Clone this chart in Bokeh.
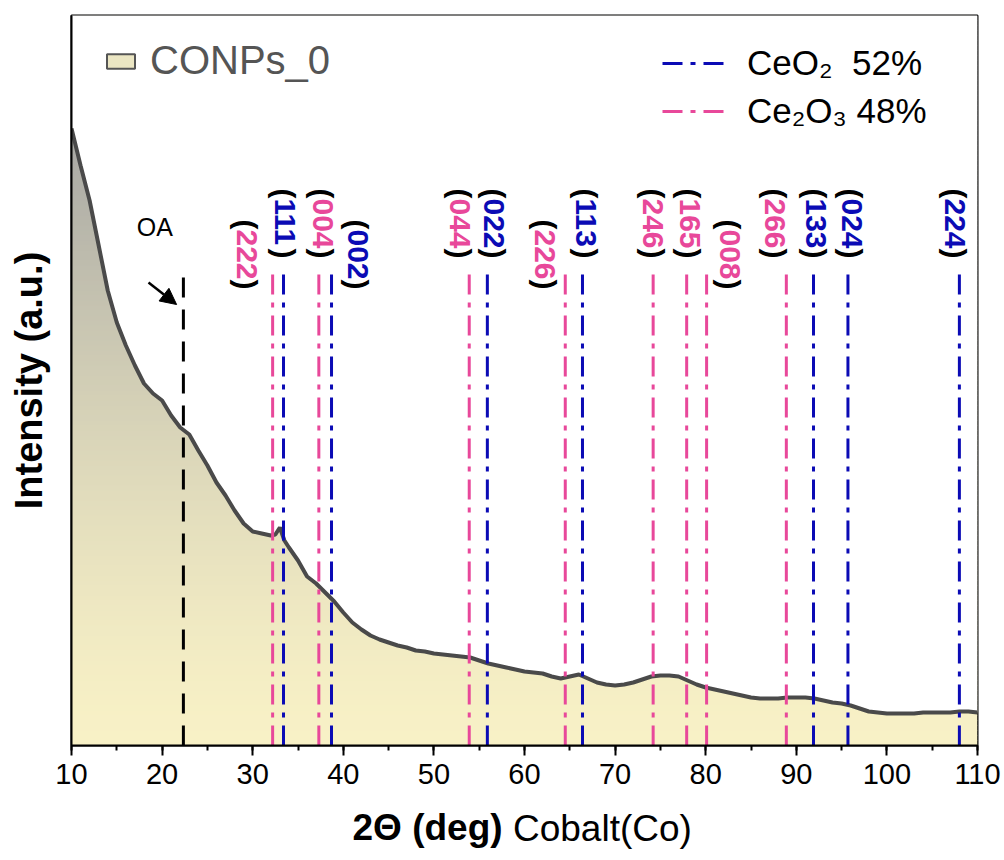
import numpy as np
from bokeh.plotting import figure
from bokeh.models import (ColumnDataSource, LabelSet, Label, Legend, LegendItem, LinearAxis,
                          Arrow, NormalHead, SingleIntervalTicker, FixedTicker, Range1d)
from bokeh.core.properties import value
from bokeh.embed import file_html
from bokeh.resources import INLINE

# ---------------- data ----------------
two_theta = [10, 11, 12, 13, 14, 15, 16, 17, 18, 19, 20, 21, 22, 23, 24, 25, 26, 27, 28, 29,
             30, 31, 32, 32.5, 33, 33.5, 34, 35, 36, 37, 38, 39, 40, 41, 42, 43, 44, 45, 46, 47,
             48, 49, 50, 51, 52, 53, 54, 55, 56, 57, 58, 59, 60, 61, 62, 63, 64, 65, 66, 67,
             68, 69, 70, 71, 72, 73, 74, 75, 76, 77, 78, 79, 80, 81, 82, 83, 84, 85, 86, 87,
             88, 89, 90, 91, 92, 93, 94, 95, 96, 97, 98, 99, 100, 101, 102, 103, 104, 105, 106,
             107, 108, 109, 110]
intensity = [617, 580, 545, 500, 455, 423, 400, 380, 362, 352, 345, 330, 318, 311, 295, 280, 263, 250, 235, 222,
             214, 212, 210, 211, 218, 205, 198, 185, 169, 162, 153, 144, 133, 123, 116, 110, 106, 103, 100, 98,
             95, 94, 92, 91, 90, 89, 88, 85, 82, 80, 78, 76, 74, 73, 72, 69, 67, 69, 71, 67,
             63, 61, 60, 61, 63, 66, 69, 70, 70, 69, 65, 61, 58, 56, 54, 52, 50, 48, 47, 47,
             47, 48, 48, 48, 47, 45, 43, 42, 40, 37, 34, 33, 32, 32, 32, 32, 33, 33, 33,
             33, 34, 34, 33]

ceo2_pos = [33.4, 38.7, 55.9, 66.4, 91.9, 95.7, 108.0]
ceo2_hkl = ["111", "002", "022", "113", "133", "024", "224"]
ce2o3_pos = [32.2, 37.3, 53.9, 64.5, 74.2, 77.9, 80.1, 88.9]
ce2o3_hkl = ["222", "004", "044", "226", "246", "165", "008", "266"]
oa_pos = 22.35

# ---------------- layout / style ----------------
BLUE = "#0b0bb5"
PINK = "#e8489a"
CURVE = "#4a4a4a"
FONT = "Liberation Sans"
Y_MAX = 730
LINE_TOP = 475
OA_TOP = 473
LABEL_TOP = {"high": 557, "low": 526}
ceo2_label_dx = [1, 26, 7, 4, 2, 4, -4]
ceo2_label_level = ["high", "low", "high", "high", "high", "high", "high"]
ce2o3_label_dx = [-26, 4, -9, -20, 0, 3, 23, -11]
ce2o3_label_level = ["low", "high", "high", "low", "high", "high", "low", "high"]

p = figure(width=1004, height=860, output_backend="svg", toolbar_location=None,
           x_range=Range1d(10, 110), y_range=Range1d(0, Y_MAX),
           min_border_left=71, min_border_right=27, min_border_top=15, min_border_bottom=115)
p.background_fill_color = "white"
p.border_fill_color = "white"
p.grid.visible = False
p.outline_line_color = "black"
p.outline_line_width = 2

x = np.array(two_theta, dtype=float)
y = np.array(intensity, dtype=float)

# gradient fill under the curve: horizontal bands, masked above the curve
def mix(c0, c1, t):
    a = [int(c0[i:i + 2], 16) for i in (1, 3, 5)]
    b = [int(c1[i:i + 2], 16) for i in (1, 3, 5)]
    return "#%02x%02x%02x" % tuple(int(round(a[i] + (b[i] - a[i]) * t)) for i in range(3))

bottom_col, top_col = "#f8f1c6", "#a6a6a3"
step = 5
lefts, rights, bots, tops, cols = [], [], [], [], []
for lo in range(0, Y_MAX, step):
    t = min((lo + step / 2) / 620.0, 1.0) ** 1.4
    lefts.append(10); rights.append(110); bots.append(lo); tops.append(lo + step + 0.5)
    cols.append(mix(bottom_col, top_col, t))
p.quad(left=lefts, right=rights, bottom=bots, top=tops, fill_color=cols, line_color=None)
p.varea(x=x, y1=y, y2=Y_MAX, fill_color="white")
p.line(x, y, line_color=CURVE, line_width=4)

# reference lines
p.segment(x0=[oa_pos], y0=0, x1=[oa_pos], y1=OA_TOP, line_color="black", line_width=3, line_dash="20 12")
r_ce2o3 = p.segment(x0=ce2o3_pos, y0=0, x1=ce2o3_pos, y1=LINE_TOP, line_color=PINK, line_width=3,
                    line_dash="20 8 5 8")
r_ceo2 = p.segment(x0=ceo2_pos, y0=0, x1=ceo2_pos, y1=LINE_TOP, line_color=BLUE, line_width=3,
                   line_dash="20 8 5 8")
# legend swatch renderer (no visible mark in the plot)
sw = p.quad(left=[np.nan], right=[np.nan], top=[np.nan], bottom=[np.nan],
            fill_color="#ebe6c3", line_color="#555555", line_width=2)

# hkl labels
xs = ceo2_pos + ce2o3_pos
hkl = ceo2_hkl + ce2o3_hkl
cl = [BLUE] * len(ceo2_pos) + [PINK] * len(ce2o3_pos)
dx = ceo2_label_dx + ce2o3_label_dx
tops_l = [LABEL_TOP[l] for l in ceo2_label_level + ce2o3_label_level]
src_open = ColumnDataSource(dict(x=xs, y=tops_l, t=["("] * len(xs), c=["black"] * len(xs), dx=dx))
src_num = ColumnDataSource(dict(x=xs, y=[v - 10 for v in tops_l], t=hkl, c=cl, dx=dx))
src_close = ColumnDataSource(dict(x=xs, y=[v - 60 for v in tops_l], t=[")"] * len(xs), c=["black"] * len(xs), dx=dx))
for s in (src_open, src_num, src_close):
    p.add_layout(LabelSet(x="x", y="y", text="t", source=s, angle=-np.pi / 2, x_offset="dx",
                          text_align="left", text_baseline="middle", text_color="c",
                          text_font=value(FONT), text_font_size="30px", text_font_style="bold"))

# OA annotation
p.add_layout(Label(x=19.2, y=519, text="OA", text_align="center", text_baseline="middle",
                   text_font=FONT, text_font_size="25px", text_color="black"))
p.add_layout(Arrow(end=NormalHead(size=16, fill_color="black", line_color="black"),
                   x_start=18.5, y_start=463, x_end=21.6, y_end=441, line_width=2.5, line_color="black"))

# axes
p.xaxis.ticker = SingleIntervalTicker(interval=10, num_minor_ticks=2)
p.xaxis.axis_line_width = 2
p.xaxis.major_tick_line_width = 2
p.xaxis.minor_tick_line_width = 2
p.xaxis.major_tick_out = 10
p.xaxis.major_tick_in = 0
p.xaxis.minor_tick_out = 5
p.xaxis.minor_tick_in = 0
p.xaxis.major_label_standoff = 8
p.xaxis.major_label_text_font = FONT
p.xaxis.major_label_text_font_size = "29px"
p.xaxis.major_label_text_color = "black"

p.yaxis.ticker = FixedTicker(ticks=[])
p.yaxis.axis_line_width = 2
p.yaxis.major_tick_out = 0
p.yaxis.minor_tick_out = 0
p.yaxis.major_label_standoff = 0
p.yaxis.major_label_text_font_size = "0px"
p.yaxis.axis_label = "Intensity (a.u.)"
p.yaxis.axis_label_text_font = FONT
p.yaxis.axis_label_text_font_size = "38px"
p.yaxis.axis_label_text_font_style = "bold"
p.yaxis.axis_label_text_color = "black"
p.yaxis.axis_label_standoff = 22

# x axis title (mixed bold / normal): two label-only axes sharing one row
TITLE_BOLD = "2Θ (deg)"
TITLE_NORMAL = "Cobalt(Co)"
BOLD_AT = 49.3
NORMAL_AT = 68.6

def title_axis(pos, text, style, standoff):
    ax = LinearAxis(ticker=FixedTicker(ticks=[pos]), major_label_overrides={pos: text},
                    axis_line_color=None, major_tick_line_color=None, minor_tick_line_color=None,
                    major_tick_out=0, major_tick_in=0, minor_tick_out=0, minor_tick_in=0,
                    major_label_standoff=standoff, major_label_text_font=FONT,
                    major_label_text_font_size="37px", major_label_text_font_style=style,
                    major_label_text_color="black")
    return ax

p.add_layout(title_axis(BOLD_AT, TITLE_BOLD, "bold", 20), "below")
p.add_layout(title_axis(NORMAL_AT, TITLE_NORMAL, "normal", -43), "below")

# legends
leg1 = Legend(items=[LegendItem(label="CONPs_0", renderers=[sw])], location=(32, 662),
              border_line_color=None, background_fill_alpha=0, padding=0, margin=0,
              label_text_font=FONT, label_text_font_size="40px", label_text_color="#555555",
              glyph_width=35, glyph_height=18, label_standoff=12)
leg2 = Legend(items=[LegendItem(label="CeO\u2082  52%", renderers=[r_ceo2]),
                     LegendItem(label="Ce\u2082O\u2083 48%", renderers=[r_ce2o3])],
              location=(591, 614), border_line_color=None, background_fill_alpha=0, padding=0, margin=0,
              label_text_font=FONT, label_text_font_size="35px", label_text_color="black",
              glyph_width=65, glyph_height=20, label_standoff=20, spacing=8)
p.add_layout(leg1)
p.add_layout(leg2)

open("out.html", "w").write(file_html(p, INLINE))
